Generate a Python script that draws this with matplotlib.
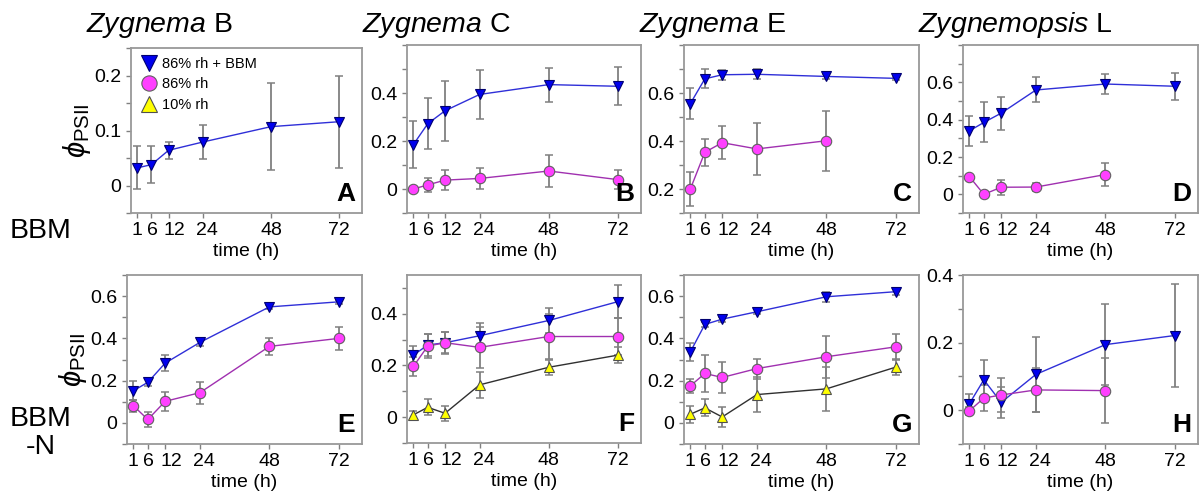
import numpy as np
import matplotlib
matplotlib.use("Agg")
from matplotlib import pyplot as plt
from matplotlib.lines import Line2D
from matplotlib.ticker import FixedLocator, MultipleLocator, FuncFormatter
from matplotlib.transforms import ScaledTranslation

plt.rcParams['font.family'] = ['Liberation Sans', 'DejaVu Sans']
plt.rcParams['mathtext.fontset'] = 'custom'
plt.rcParams['mathtext.rm'] = 'Liberation Sans'
plt.rcParams['mathtext.it'] = 'Liberation Sans:italic'
plt.rcParams['mathtext.bf'] = 'Liberation Sans:bold'

nan = np.nan

# tiempo de muestreo (h)
t = [1, 6, 12, 24, 48, 72]
series_labels = ['86% rh + BBM', '86% rh', '10% rh']
titles = ['Zygnema', 'Zygnema', 'Zygnema', 'Zygnemopsis']
strains = ['B', 'C', 'E', 'L']
row_labels = ['BBM', 'BBM\n-N']
letters = ['A', 'B', 'C', 'D', 'E', 'F', 'G', 'H']

# fila BBM
A_bbm = [0.032, 0.038, 0.064, 0.079, 0.107, 0.116]
A_bbm_err = [0.039, 0.034, 0.015, 0.031, 0.079, 0.084]

B_bbm = [0.185, 0.272, 0.326, 0.394, 0.435, 0.428]
B_bbm_err = [0.098, 0.106, 0.126, 0.102, 0.071, 0.08]
B_rh86 = [0.0, 0.017, 0.037, 0.044, 0.075, 0.039]
B_rh86_err = [0.008, 0.028, 0.041, 0.045, 0.067, 0.04]

C_bbm = [0.556, 0.659, 0.676, 0.678, 0.669, 0.661]
C_bbm_err = [0.065, 0.04, 0.021, 0.021, 0.012, 0.006]
C_rh86 = [0.2, 0.353, 0.393, 0.367, 0.401, nan]
C_rh86_err = [0.072, 0.057, 0.07, 0.11, 0.124, nan]

D_bbm = [0.34, 0.385, 0.435, 0.559, 0.591, 0.579]
D_bbm_err = [0.08, 0.107, 0.088, 0.067, 0.054, 0.071]
D_rh86 = [0.095, 0.0, 0.038, 0.039, 0.106, nan]
D_rh86_err = [0.008, 0.006, 0.04, 0.02, 0.063, nan]

# fila BBM -N
E_bbm = [0.152, 0.192, 0.283, 0.381, 0.549, 0.573]
E_bbm_err = [0.044, 0.016, 0.038, 0.016, 0.008, 0.01]
E_rh86 = [0.081, 0.016, 0.102, 0.143, 0.362, 0.4]
E_rh86_err = [0.028, 0.034, 0.044, 0.052, 0.042, 0.054]

F_bbm = [0.24, 0.279, 0.288, 0.315, 0.374, 0.447]
F_bbm_err = [0.036, 0.041, 0.04, 0.05, 0.05, 0.063]
F_rh86 = [0.196, 0.275, 0.288, 0.27, 0.312, 0.312]
F_rh86_err = [0.036, 0.047, 0.043, 0.078, 0.088, 0.073]
F_rh10 = [0.009, 0.038, 0.015, 0.125, 0.193, 0.24]
F_rh10_err = [0.016, 0.031, 0.028, 0.05, 0.03, 0.03]

G_bbm = [0.336, 0.466, 0.491, 0.526, 0.597, 0.621]
G_bbm_err = [0.043, 0.013, 0.012, 0.011, 0.024, 0.016]
G_rh86 = [0.175, 0.234, 0.215, 0.257, 0.313, 0.36]
G_rh86_err = [0.034, 0.088, 0.072, 0.047, 0.1, 0.063]
G_rh10 = [0.041, 0.071, 0.028, 0.134, 0.161, 0.264]
G_rh10_err = [0.04, 0.04, 0.048, 0.083, 0.105, 0.038]

H_bbm = [0.019, 0.09, 0.023, 0.106, 0.194, 0.221]
H_bbm_err = [0.03, 0.06, 0.045, 0.11, 0.12, 0.153]
H_rh86 = [-0.002, 0.036, 0.045, 0.06, 0.058, nan]
H_rh86_err = [0.012, 0.038, 0.05, 0.065, 0.096, nan]

# ejes y de cada panel
ylims = [(-0.05, 0.25), (-0.1, 0.6), (0.1, 0.8), (-0.1, 0.8),
         (-0.1, 0.7), (-0.1, 0.55), (-0.1, 0.7), (-0.1, 0.4)]
yticks = [[0, 0.1, 0.2], [0, 0.2, 0.4], [0.2, 0.4, 0.6], [0, 0.2, 0.4, 0.6],
          [0, 0.2, 0.4, 0.6], [0, 0.2, 0.4], [0, 0.2, 0.4, 0.6], [0, 0.2, 0.4]]
yminor = [0.05, 0.1, 0.1, 0.1, 0.1, 0.1, 0.1, 0.1]

# estilos
sty_bbm = dict(marker='v', color='#2f2fd8', mfc='#0000ee', mec='#000070', ms=7.5)
sty_86 = dict(marker='o', color='#a030b0', mfc='#ff40ff', mec='#606060', ms=7.5)
sty_10 = dict(marker='^', color='#303030', mfc='#ffff00', mec='#505050', ms=7.5)

W, H = 1202, 493
fig = plt.figure(figsize=(W / 100, H / 100), dpi=100)


def box(x0, y0, x1, y1):
    return [x0 / W, 1 - y1 / H, (x1 - x0) / W, (y1 - y0) / H]


boxes = [box(131, 48, 362, 213), box(407, 45, 641, 213),
         box(684, 45, 919, 213), box(963, 45, 1198, 213),
         box(127, 275, 362, 444), box(407, 275, 641, 443),
         box(684, 275, 919, 444), box(963, 275, 1198, 444)]

panels = [
    [(A_bbm, A_bbm_err, sty_bbm)],
    [(B_bbm, B_bbm_err, sty_bbm), (B_rh86, B_rh86_err, sty_86)],
    [(C_bbm, C_bbm_err, sty_bbm), (C_rh86, C_rh86_err, sty_86)],
    [(D_bbm, D_bbm_err, sty_bbm), (D_rh86, D_rh86_err, sty_86)],
    [(E_bbm, E_bbm_err, sty_bbm), (E_rh86, E_rh86_err, sty_86)],
    [(F_rh10, F_rh10_err, sty_10), (F_bbm, F_bbm_err, sty_bbm), (F_rh86, F_rh86_err, sty_86)],
    [(G_rh10, G_rh10_err, sty_10), (G_bbm, G_bbm_err, sty_bbm), (G_rh86, G_rh86_err, sty_86)],
    [(H_bbm, H_bbm_err, sty_bbm), (H_rh86, H_rh86_err, sty_86)],
]

# las etiquetas 6, 12 y 24 van un poco a la derecha para que no se junten
label_shift_px = [0, 1, 6, 4, 0, 0]

fmt = FuncFormatter(lambda v, p: '0' if abs(v) < 1e-9 else '%g' % round(v, 3))
axes = []
for i in range(8):
    ax = fig.add_axes(boxes[i])
    axes.append(ax)
    for y, e, s in panels[i]:
        y = np.array(y, dtype=float)
        e = np.array(e, dtype=float)
        ok = ~np.isnan(y)
        ax.errorbar(np.array(t)[ok], y[ok], yerr=e[ok], fmt='none',
                    ecolor='#808080', elinewidth=1.3, capsize=3, capthick=1.1, zorder=2)
        ax.plot(np.array(t)[ok], y[ok], lw=1.0, mew=0.8, zorder=3, **s)
    ax.set_xlim(-1.2, 80)
    ax.set_ylim(*ylims[i])
    ax.set_xticks(t)
    ax.yaxis.set_major_locator(FixedLocator(yticks[i]))
    ax.yaxis.set_minor_locator(MultipleLocator(yminor[i]))
    ax.yaxis.set_major_formatter(fmt)
    for sp in ax.spines.values():
        sp.set_color('#999999')
        sp.set_linewidth(1.3)
    ax.tick_params(which='both', direction='out', colors='#808080', labelcolor='black',
                   labelsize=14, length=3.5, width=1)
    ax.tick_params(axis='x', pad=3)
    for lab, dx in zip(ax.get_xticklabels(), label_shift_px):
        lab.set_transform(lab.get_transform() + ScaledTranslation(dx / 100, 0, fig.dpi_scale_trans))
    ax.set_xlabel('time (h)', fontsize=14, labelpad=3)
    ax.text(0.97, 0.04, letters[i], transform=ax.transAxes, ha='right', va='bottom',
            fontsize=19, fontweight='bold')

for ax in (axes[0], axes[4]):
    ax.set_ylabel(r'$\phi_{\mathrm{PSII}}$', fontsize=21, labelpad=1)

for j in range(4):
    x0 = boxes[j][0] - 45 / W
    fig.text(x0, 1 - 32 / H, r'$\mathit{%s}$ %s' % (titles[j], strains[j]),
             fontsize=20.5, ha='left', va='baseline')

fig.text(41 / W, 1 - 231 / H, row_labels[0], fontsize=20.5, ha='center', va='center')
fig.text(41 / W, 1 - 433 / H, row_labels[1], fontsize=20.5, ha='center', va='center',
         multialignment='center', linespacing=1.15)

handles = [Line2D([], [], ls='none', marker=s['marker'], mfc=s['mfc'], mec=s['mec'],
                  ms=11, mew=0.8) for s in (sty_bbm, sty_86, sty_10)]
axes[0].legend(handles, series_labels, loc='upper left', frameon=False, fontsize=10.5,
               handletextpad=0.2, labelspacing=0.45, borderaxespad=0.4,
               handlelength=1.3, borderpad=0.2)

fig.savefig('out.png', dpi=100)
